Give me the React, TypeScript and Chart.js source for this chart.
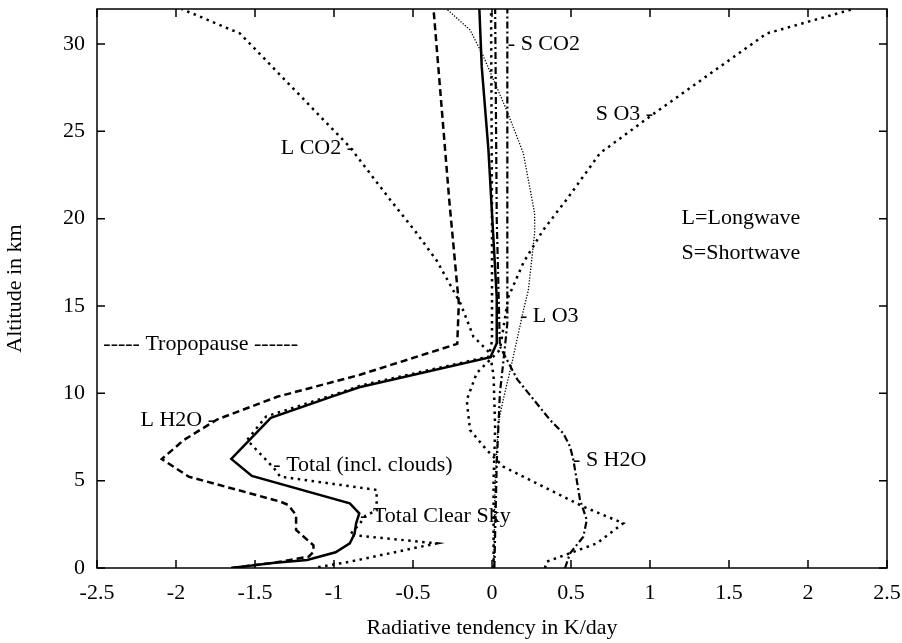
import React, { useEffect, useRef } from 'react';
import { Chart, registerables } from 'chart.js';

Chart.register(...registerables);

const FONT = "'Liberation Serif', 'Times New Roman', serif";

// ---- Data (altitude in km, radiative tendency in K/day) ----
const totalClearAlt = [0, 0.29, 0.46, 0.9, 1.41, 1.95, 2.56, 3.13, 3.7, 5.27, 6.24, 8.6, 9.85, 10.35, 12.07, 12.87, 15.5, 24, 28.7, 32];
const totalClearVal = [-1.65, -1.39, -1.17, -0.99, -0.9, -0.87, -0.86, -0.84, -0.9, -1.52, -1.65, -1.4, -1.0, -0.84, -0.01, 0.03, 0.03, -0.023, -0.065, -0.08];

const totalCloudAlt = [0.05, 0.36, 1.41, 1.9, 2.5, 3.0, 3.3, 4.47, 5.23, 5.71, 7.33, 8.67, 9.95, 10.45, 12.1, 13, 20, 32];
const totalCloudVal = [-1.1, -0.9, -0.35, -0.9, -0.84, -0.8, -0.73, -0.73, -1.34, -1.38, -1.55, -1.43, -0.99, -0.83, -0.02, 0.0, 0.0, -0.006];

const lH2OAlt = [0, 0.3, 0.65, 0.93, 1.3, 2.18, 3.04, 3.61, 3.8, 5.23, 6.24, 7.33, 8.5, 9.8, 11.05, 12.83, 15.16, 21, 32];
const lH2OVal = [-1.65, -1.38, -1.16, -1.13, -1.13, -1.24, -1.24, -1.29, -1.34, -1.92, -2.09, -1.95, -1.74, -1.36, -0.84, -0.22, -0.21, -0.27, -0.37];

const lCO2Alt = [0, 5, 8, 11, 12.3, 13.25, 15.16, 17.6, 19.17, 21.1, 24.1, 30.6, 32];
const lCO2Val = [0.01, 0.01, 0.02, 0.01, -0.013, -0.118, -0.2, -0.35, -0.477, -0.646, -0.9, -1.595, -1.964];

const lO3Alt = [0, 5, 8.3, 9.6, 11.9, 14.8, 15.9, 19.2, 20.3, 23.75, 26.2, 29.3, 30.8, 32];
const lO3Val = [0.01, 0.02, 0.04, 0.07, 0.13, 0.2, 0.23, 0.27, 0.27, 0.198, 0.093, -0.055, -0.139, -0.287];

const sCO2Alt = [0, 6, 10, 12.5, 14, 32];
const sCO2Val = [0.015, 0.03, 0.05, 0.08, 0.097, 0.097];

const sO3Alt = [0, 0.36, 1.41, 2.56, 3.51, 5.8, 6.76, 7.9, 9.62, 11.15, 12.49, 15.5, 17.5, 19.36, 21.1, 23.75, 25.85, 30.6, 32];
const sO3Val = [0.335, 0.346, 0.663, 0.831, 0.578, 0.072, -0.034, -0.139, -0.16, -0.097, 0.05, 0.103, 0.2, 0.325, 0.473, 0.684, 1.0, 1.739, 2.287];

const sH2OAlt = [0, 0.84, 1.79, 2.75, 3.9, 6.19, 6.95, 7.71, 8.48, 10.8, 12.68, 20, 32];
const sH2OVal = [0.462, 0.494, 0.578, 0.6, 0.557, 0.515, 0.494, 0.451, 0.367, 0.16, 0.05, 0.03, 0.02];

// ---- Axis ticks ----
const xTickValues = [-2.5, -2, -1.5, -1, -0.5, 0, 0.5, 1, 1.5, 2, 2.5];
const yTickValues = [0, 5, 10, 15, 20, 25, 30];

// ---- Text labels ----
const labelTexts = ['L CO2 -', '- S CO2', 'S O3 -', 'L=Longwave', 'S=Shortwave', '- L O3', '----- Tropopause ------', 'L H2O -', '- Total (incl. clouds)', '- Total Clear Sky', '- S H2O'];
const labelX = [-0.873, 0.1, 1.02, 1.2, 1.2, 0.177, -2.46, -1.753, -1.384, -0.835, 0.513];
const labelY = [24.05, 30.0, 25.95, 20.0, 18.0, 14.39, 12.83, 8.48, 5.9, 2.94, 6.19];
const labelAlign = ['right', 'left', 'right', 'left', 'left', 'left', 'left', 'right', 'left', 'left', 'left'];

const toPoints = (alt: number[], val: number[]) => alt.map((a, i) => ({ x: val[i], y: a }));

const framePlugin = {
  id: 'gnuFrame',
  afterDatasetsDraw(chart: any) {
    const { ctx, chartArea, scales } = chart;
    const { left, right, top, bottom } = chartArea;
    const xs = scales.x;
    const ys = scales.y;
    ctx.save();
    ctx.strokeStyle = '#000';
    ctx.lineWidth = 1.5;
    ctx.setLineDash([]);
    ctx.strokeRect(left, top, right - left, bottom - top);
    const tl = 8;
    ctx.beginPath();
    xTickValues.forEach((v) => {
      const px = xs.getPixelForValue(v);
      ctx.moveTo(px, bottom);
      ctx.lineTo(px, bottom - tl);
      ctx.moveTo(px, top);
      ctx.lineTo(px, top + tl);
    });
    yTickValues.forEach((v) => {
      const py = ys.getPixelForValue(v);
      ctx.moveTo(left, py);
      ctx.lineTo(left + tl, py);
      ctx.moveTo(right, py);
      ctx.lineTo(right - tl, py);
    });
    ctx.stroke();

    ctx.fillStyle = '#000';
    ctx.font = `22px ${FONT}`;
    ctx.textBaseline = 'middle';
    labelTexts.forEach((t, i) => {
      ctx.textAlign = labelAlign[i] as CanvasTextAlign;
      ctx.fillText(t, xs.getPixelForValue(labelX[i]), ys.getPixelForValue(labelY[i]));
    });
    ctx.restore();
  },
};

const zeroPad = (s: any) => {
  s.paddingTop = 0;
  s.paddingBottom = 0;
  s.paddingLeft = 0;
  s.paddingRight = 0;
};

export default function App() {
  const ref = useRef<HTMLCanvasElement | null>(null);
  useEffect(() => {
    if (!ref.current) return;
    const thickDot = { borderWidth: 2.5, borderDash: [2.5, 4.5], borderCapStyle: 'butt' };
    const dashDot = { borderWidth: 2.2, borderDash: [7, 3, 2, 3], borderCapStyle: 'butt' };
    const common = { borderColor: '#000', backgroundColor: '#000', pointRadius: 0, fill: false, tension: 0 };
    const chart = new Chart(ref.current, {
      type: 'line',
      data: {
        datasets: [
          { label: 'Total Clear Sky', data: toPoints(totalClearAlt, totalClearVal), ...common, borderWidth: 2.5 },
          { label: 'Total (incl. clouds)', data: toPoints(totalCloudAlt, totalCloudVal), ...common, ...thickDot },
          { label: 'L H2O', data: toPoints(lH2OAlt, lH2OVal), ...common, borderWidth: 2.5, borderDash: [7, 4] },
          { label: 'L CO2', data: toPoints(lCO2Alt, lCO2Val), ...common, ...thickDot },
          { label: 'L O3', data: toPoints(lO3Alt, lO3Val), ...common, borderWidth: 1.3, borderDash: [1.3, 1.6] },
          { label: 'S CO2', data: toPoints(sCO2Alt, sCO2Val), ...common, ...dashDot },
          { label: 'S O3', data: toPoints(sO3Alt, sO3Val), ...common, ...thickDot },
          { label: 'S H2O', data: toPoints(sH2OAlt, sH2OVal), ...common, ...dashDot },
        ] as any,
      },
      options: {
        responsive: false,
        animation: false,
        parsing: false as any,
        normalized: true,
        plugins: { legend: { display: false }, tooltip: { enabled: false } },
        layout: { padding: { top: 9, right: 15, left: 0, bottom: 0 } },
        scales: {
          x: {
            type: 'linear',
            position: 'bottom',
            min: -2.5,
            max: 2.5,
            afterBuildTicks: (s: any) => {
              s.ticks = xTickValues.map((v) => ({ value: v }));
            },
            afterFit: (s: any) => {
              s.height = 75;
              zeroPad(s);
            },
            ticks: {
              autoSkip: false,
              maxRotation: 0,
              padding: 12,
              color: '#000',
              font: { family: FONT, size: 22 },
              callback: (v: any) => String(v),
            },
            grid: { display: false, drawTicks: false, tickLength: 0 },
            border: { display: false },
            title: {
              display: true,
              text: 'Radiative tendency in K/day',
              color: '#000',
              font: { family: FONT, size: 22 },
              padding: { top: 0, bottom: 2 },
            },
          },
          y: {
            type: 'linear',
            min: 0,
            max: 32,
            afterBuildTicks: (s: any) => {
              s.ticks = yTickValues.map((v) => ({ value: v }));
            },
            afterFit: (s: any) => {
              s.width = 97;
              zeroPad(s);
            },
            ticks: {
              autoSkip: false,
              padding: 12,
              color: '#000',
              font: { family: FONT, size: 22 },
              callback: (v: any) => String(v),
            },
            grid: { display: false, drawTicks: false, tickLength: 0 },
            border: { display: false },
            title: {
              display: true,
              text: 'Altitude in km',
              color: '#000',
              font: { family: FONT, size: 22 },
              padding: { top: 2, bottom: 0 },
            },
          },
        },
      } as any,
      plugins: [framePlugin],
    });
    return () => chart.destroy();
  }, []);

  return (
    <div style={{ position: 'absolute', left: 0, top: 0, width: 902, height: 643, background: '#fff' }}>
      <canvas ref={ref} width={902} height={643} style={{ display: 'block', width: 902, height: 643 }} />
    </div>
  );
}
